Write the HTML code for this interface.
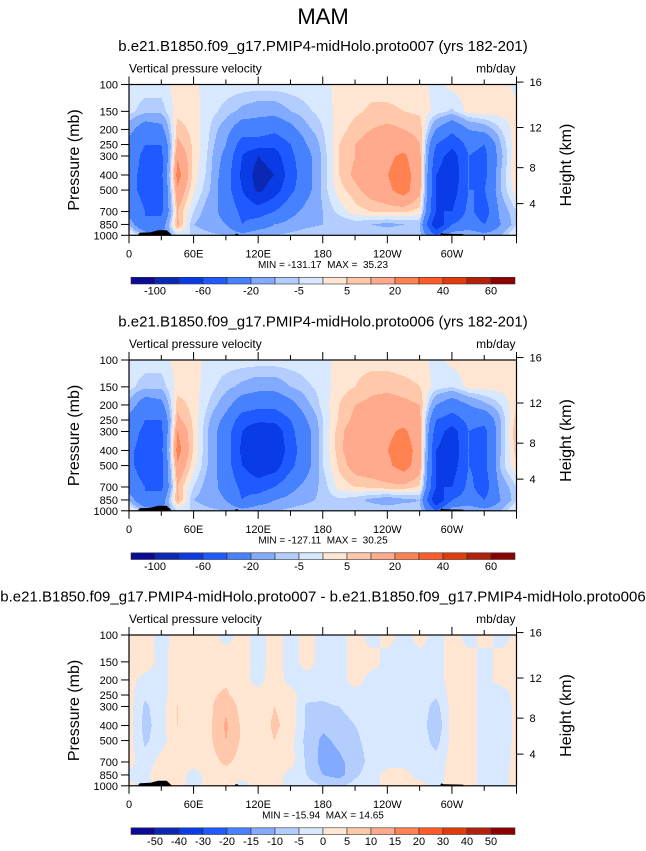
<!DOCTYPE html>
<html><head><meta charset="utf-8">
<style>
html,body{margin:0;padding:0;background:#fff;}
svg{display:block;font-family:"Liberation Sans",Helvetica,Arial,sans-serif;}
</style></head>
<body>
<svg id="chart" width="646" height="851" viewBox="0 0 646 851" xmlns="http://www.w3.org/2000/svg">
<text x="323" y="24" font-size="22" text-anchor="middle">MAM</text>
</svg>
<script>
// ---- data ----
const lons = [0,15,30,45,60,75,90,105,120,135,150,165,180,195,210,225,240,255,270,285,300,315,330,345,360];
const levels = [100,150,200,250,300,400,500,700,850,1000];
const levelsAB = [-100,-80,-60,-40,-20,-10,-5,0,5,10,20,30,40,50,60];
const labelsAB = ['-100','-60','-20','-5','5','20','40','60'];
const labelIdxAB = [0,2,4,6,8,10,12,14];
const levelsC = [-50,-40,-30,-20,-15,-10,-5,0,5,10,15,20,30,40,50];
const labelsC = ['-50','-40','-30','-20','-15','-10','-5','0','5','10','15','20','30','40','50'];
const labelIdxC = [0,1,2,3,4,5,6,7,8,9,10,11,12,13,14];
const colors = ['#0a0a96','#0a28b4','#0a3ce6','#1e5aff','#4682ff','#82aaff','#b4cdff','#d7e8ff','#ffe6d2','#ffc8aa','#ffaa8c','#ff8250','#ff5a28','#e13c0a','#b4200a','#8c0000'];
const xTickLabels = ['0','60E','120E','180','120W','60W'];
const yTickLabels = ['100','150','200','250','300','400','500','700','850','1000'];
const kmTicks = [16,12,8,4];

const omega1 = [
[-2,-2,-2,2,1,-2,-2,-2,-2,-2,-2,-2,-2,2,3,3,3,3,2,-2,2,3,3,3,-2],
[-3,-8,-8,3,2,-3,-7,-12,-15,-15,-10,-6,-3,2,4,6,6,5,4,-2,-6,2,3,2,2],
[-15,-30,-25,8,3,-5,-15,-30,-30,-35,-25,-12,-5,3,7,10,12,10,8,-20,-35,-20,-15,-5,3],
[-25,-40,-40,12,4,-6,-20,-50,-50,-55,-40,-20,-7,5,10,14,16,15,10,-40,-55,-35,-40,-10,5],
[-30,-45,-45,18,4,-7,-25,-60,-80,-70,-45,-25,-8,5,10,16,18,22,12,-50,-70,-40,-45,-12,6],
[-35,-45,-45,25,3,-8,-30,-65,-90,-80,-50,-25,-8,5,12,18,20,25,14,-60,-75,-40,-45,-10,6],
[-35,-45,-45,18,1,-10,-30,-60,-85,-70,-45,-25,-8,3,8,14,18,25,12,-60,-70,-40,-40,-10,4],
[-30,-40,-45,10,-5,-15,-25,-45,-50,-40,-25,-15,-10,-3,3,5,6,6,3,-60,-60,-35,-50,-15,-5],
[-10,-40,-30,12,-10,-15,-20,-40,-30,-20,-15,-12,-10,-10,-8,-10,-12,-10,-10,-80,-40,-30,-40,-20,-5],
[5,-10,-20,-5,-5,-8,-10,-15,-10,-10,-8,-6,-5,-5,-5,-5,-5,-5,-8,-40,-10,-10,-15,-10,3]
];
const omega2 = [
[-2,-2,-2,2,2,-2,-2,-2,-2,-2,-2,-2,-2,2,3,3,3,2,2,-2,2,3,3,3,2],
[-3,-8,-8,2,2,-3,-8,-12,-15,-15,-10,-6,-3,3,5,8,8,7,5,-2,-5,2,2,2,3],
[-12,-30,-25,8,3,-6,-15,-30,-35,-35,-25,-12,-3,5,10,12,14,12,10,-20,-30,-20,-12,-5,5],
[-25,-40,-40,12,4,-10,-25,-50,-55,-55,-40,-20,-5,6,12,15,18,16,12,-40,-50,-35,-35,-10,8],
[-30,-45,-45,20,4,-12,-30,-60,-80,-75,-45,-25,-5,8,15,17,18,22,14,-50,-70,-40,-45,-10,10],
[-35,-50,-45,25,4,-12,-30,-65,-80,-80,-50,-25,-5,8,16,18,20,25,16,-60,-75,-40,-45,-10,8],
[-35,-50,-45,18,2,-12,-30,-60,-75,-70,-45,-25,-5,6,14,16,18,25,14,-60,-70,-40,-45,-8,5],
[-30,-40,-45,10,-5,-15,-25,-45,-50,-40,-25,-15,-8,2,5,6,8,8,4,-60,-60,-35,-50,-15,-5],
[-10,-40,-30,12,-10,-15,-20,-40,-30,-20,-15,-12,-8,-6,-8,-12,-15,-12,-10,-80,-40,-30,-40,-20,-5],
[5,-10,-20,-5,-5,-8,-10,-15,-10,-10,-8,-6,-5,-5,-5,-5,-5,-5,-8,-40,-10,-10,-15,-10,3]
];
const omegaDiff = [
[1,2,-2,2,2,2,-2,2,-2,2,-2,2,-2,-2,2,-2,2,-2,2,-2,2,-2,2,-2,1],
[2,3,-2,3,3,3,3,2,-2,2,-2,2,-2,-2,2,2,-2,-2,-2,-2,2,2,-2,2,2],
[2,-2,-2,3,2,3,4,2,-2,3,-2,-2,-2,-2,2,-2,-2,-2,-2,-2,2,2,-2,2,2],
[2,-4,-2,3,3,4,6,2,2,4,2,-3,-4,-2,-2,-2,-2,-2,-2,-4,2,2,-2,-3,2],
[2,-6,-2,5,3,4,9,3,2,5,3,-6,-6,-5,-3,-2,-2,-2,-2,-7,2,2,-2,-4,2],
[2,-7,-2,5,2,4,11,4,2,6,3,-6,-9,-7,-5,-3,-2,-2,-2,-9,2,3,-3,-4,2],
[2,-6,-2,4,2,4,10,4,2,5,2,-7,-11,-9,-6,-3,-2,-2,-2,-7,2,3,-3,-4,2],
[2,-3,2,3,2,3,6,3,2,4,2,-6,-12,-11,-8,-3,-2,-2,-2,-3,2,2,-2,-3,2],
[-2,-2,5,2,-2,2,3,2,2,3,-2,-5,-10,-12,-6,-2,2,2,-2,-2,2,2,-2,-2,2],
[2,-2,2,2,-2,2,2,-2,2,2,-2,-3,-5,-6,-3,-2,2,2,2,-2,2,2,-2,-2,2]
];
const titles = ['b.e21.B1850.f09_g17.PMIP4-midHolo.proto007 (yrs 182-201)','b.e21.B1850.f09_g17.PMIP4-midHolo.proto006 (yrs 182-201)','b.e21.B1850.f09_g17.PMIP4-midHolo.proto007 - b.e21.B1850.f09_g17.PMIP4-midHolo.proto006'];
const minmax = ['MIN = -131.17  MAX =  35.23','MIN = -127.11  MAX =  30.25','MIN = -15.94  MAX = 14.65'];

// ---- layout ----
const NS='http://www.w3.org/2000/svg';
const svg=document.getElementById('chart');
const X0=129, X1=516.5;
const P_TOP=84.5, P_BOT=235.3;
const offsets=[0,275.5,550.5];
const levelFrac=[0,0.178,0.298,0.398,0.474,0.600,0.700,0.842,0.928,1];
function xScale(lon){return X0+(lon/360)*(X1-X0);}
function yScale(i,off){return off+P_TOP+levelFrac[i]*(P_BOT-P_TOP);}
function mk(tag,attrs,parent){const e=document.createElementNS(NS,tag);for(const k in attrs)e.setAttribute(k,attrs[k]);(parent||svg).appendChild(e);return e;}
function txt(s,x,y,size,anchor,parent){const t=mk('text',{x:x,y:y,'font-size':size,'text-anchor':anchor||'start'},parent);t.textContent=s;return t;}
function colorIndex(v,lv){let i=0;while(i<lv.length&&v>=lv[i])i++;return i;}
function kmToY(km,off){
  const p=1013.25*Math.pow(1-km/44.33,5.255);
  const lp=Math.log(p), l0=Math.log(100), l1=Math.log(1000);
  return off+P_TOP+(lp-l0)/(l1-l0)*(P_BOT-P_TOP);
}

function drawPanel(k,data,lv,labs,labIdx){
  const off=offsets[k];
  const g=mk('g',{});
  
  
  const st=txt(titles[k],323,off+51,15,'middle',g);
  
  
  const lt=txt('Vertical pressure velocity',X0,off+72.5,12,'start',g);
  
  
  const ut=txt('mb/day',X1-1,off+72.5,12,'end',g);
  
  
  const fill=mk('g',{'shape-rendering':'crispEdges'},g);
  
  
  const yTop=yScale(0,off), yBot=yScale(levels.length-1,off);
  const rowYs=levels.map((_,i)=>yScale(i,off));
  const nx=Math.round(X1-X0);
  for(let py=Math.floor(yTop);py<Math.ceil(yBot);py++){
    const yc=py+0.5;
    let r=0;while(r<levels.length-2&&yc>rowYs[r+1])r++;
    let ty=(yc-rowYs[r])/(rowYs[r+1]-rowYs[r]);ty=Math.max(0,Math.min(1,ty));
    let runStart=0,runC=-1;
    for(let px=0;px<=nx;px++){
      let ci=-1;
      if(px<nx){
        const lon=(px+0.5)/nx*360;
        let c=Math.min(Math.floor(lon/15),lons.length-2);
        const tx=(lon-lons[c])/15;
        const v=(1-ty)*((1-tx)*data[r][c]+tx*data[r][c+1])+ty*((1-tx)*data[r+1][c]+tx*data[r+1][c+1]);
        ci=colorIndex(v,lv);
      }
      if(ci!==runC){
        if(runC>=0){
          const y0=Math.max(py,yTop), y1=Math.min(py+1,yBot);
          const rc=mk('rect',{x:X0+runStart,y:y0,width:px-runStart,height:y1-y0,fill:colors[runC]},fill);
          
          
        }
        runStart=px;runC=ci;
      }
    }
  }
  const topo=mk('path',{fill:'#000',d:`M${xScale(8)},${yBot} L${xScale(10)},${yBot-2.5} L${xScale(20)},${yBot-3} L${xScale(27)},${yBot-5} L${xScale(35)},${yBot-5} L${xScale(38)},${yBot-2} L${xScale(40)},${yBot} Z M${xScale(98)},${yBot} L${xScale(99)},${yBot-1.5} L${xScale(101)},${yBot-1.5} L${xScale(102)},${yBot} Z M${xScale(289)},${yBot} L${xScale(290)},${yBot-2.5} L${xScale(292)},${yBot-1.5} L${xScale(310)},${yBot-1.2} L${xScale(312)},${yBot} Z`},g);
  
  
  const fr=mk('rect',{x:X0,y:yTop,width:X1-X0,height:yBot-yTop,fill:'none',stroke:'#000','stroke-width':1.2},g);
  
  
  for(let lon=0;lon<=360;lon+=30){
    const x=xScale(lon), len=(lon%60===0)?8:5;
    mk('line',{x1:x,x2:x,y1:yTop,y2:yTop-len,stroke:'#000','stroke-width':1},g);
    mk('line',{x1:x,x2:x,y1:yBot,y2:yBot+len,stroke:'#000','stroke-width':1},g);
  }
  xTickLabels.forEach((s,i)=>{
    const t=txt(s,xScale(i*60),yBot+22,11,'middle',g);
    
    
  });
  yTickLabels.forEach((s,i)=>{
    const y=yScale(i,off);
    mk('line',{x1:X0-8,x2:X0,y1:y,y2:y,stroke:'#000','stroke-width':1},g);
    const t=txt(s,X0-11,y+4,11,'end',g);
    
    
  });
  const yt=txt('Pressure (mb)',0,0,16,'middle',g);
  yt.setAttribute('transform',`translate(79,${off+160}) rotate(-90)`);
  
  
  kmTicks.forEach(km=>{
    const y=kmToY(km,off);
    mk('line',{x1:X1,x2:X1+7,y1:y,y2:y,stroke:'#000','stroke-width':1},g);
    const t=txt(String(km),X1+13,y+4,11,'start',g);
    
    
  });
  const ht=txt('Height (km)',0,0,16,'middle',g);
  ht.setAttribute('transform',`translate(571,${off+165}) rotate(-90)`);
  
  
  const mm=txt(minmax[k],323,off+268,10,'middle',g);
  mm.setAttribute('style','white-space:pre');
  
  
  const cb=mk('g',{},g);
  
  
  const cx0=131, cx1=515, cy=off+277.3, ch=6.7, bw=(cx1-cx0)/colors.length;
  colors.forEach((c,i)=>{
    const r=mk('rect',{x:cx0+i*bw,y:cy,width:bw,height:ch,fill:c,stroke:'#333','stroke-width':0.6},cb);
    
    
  });
  labs.forEach((s,i)=>{
    const t=txt(s,cx0+(labIdx[i]+1)*bw,cy+17,11,'middle',cb);
    
    
  });
}
drawPanel(0,omega1,levelsAB,labelsAB,labelIdxAB);
drawPanel(1,omega2,levelsAB,labelsAB,labelIdxAB);
drawPanel(2,omegaDiff,levelsC,labelsC,labelIdxC);
</script>
</body></html>
